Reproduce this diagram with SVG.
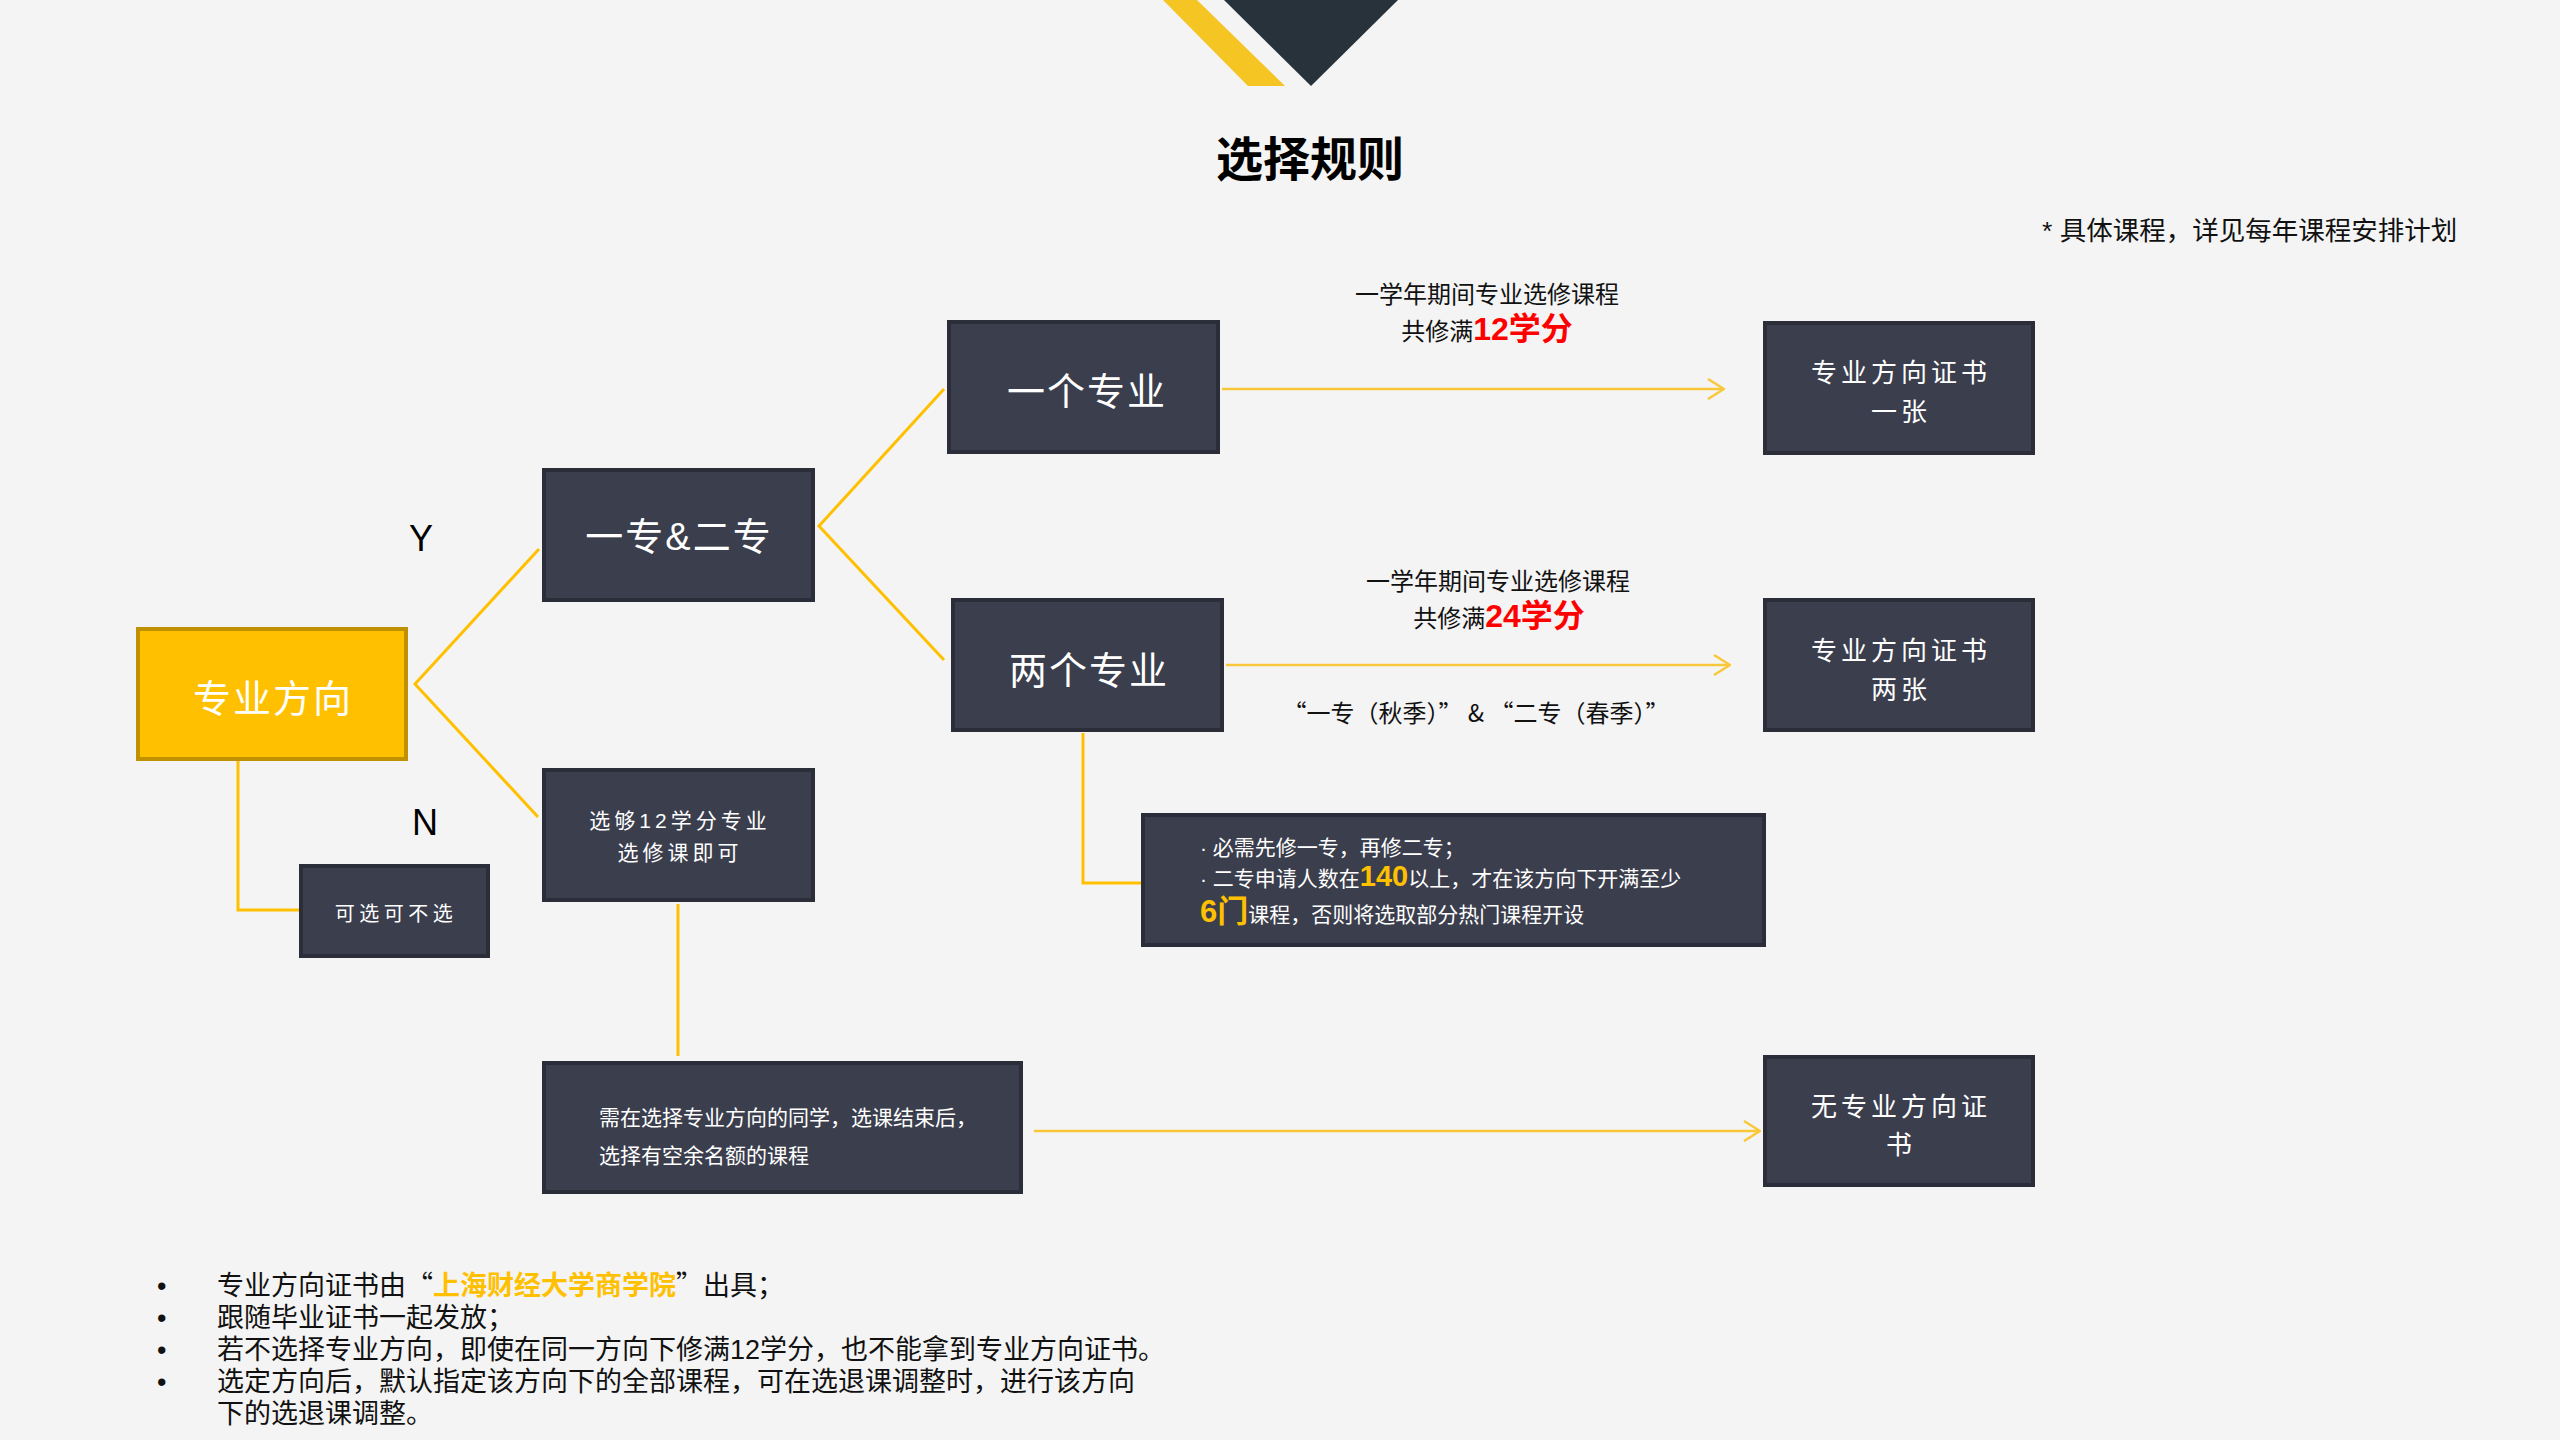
<svg xmlns="http://www.w3.org/2000/svg" width="2560" height="1440" viewBox="0 0 2560 1440">
<defs>
<style>
text{font-family:"Liberation Sans","Noto Sans CJK SC",sans-serif;}
.cjk{font-family:"Noto Sans CJK SC","Liberation Sans",sans-serif;}
.box{fill:#3B3E4D;stroke:#2B2D38;stroke-width:4;}
.ybox{fill:#FFC000;stroke:#BF9000;stroke-width:4;}
.wt{fill:#FFFFFF;text-anchor:middle;}
.big{font-size:38px;letter-spacing:2px;}
.cert{font-size:26px;letter-spacing:4px;}
.sm{font-size:21px;letter-spacing:4px;}
.lbl{font-size:24px;fill:#111111;text-anchor:middle;}
.red{fill:#FF0000;font-weight:bold;font-size:32px;}
.conn{fill:none;stroke:#FFC000;stroke-width:3;}
.arr{fill:none;stroke:#F9C83A;stroke-width:2.5;marker-end:url(#chev);}
.note{fill:#FFFFFF;font-size:21px;}
.hl{fill:#FFC000;font-weight:bold;}
.bul{font-size:27px;fill:#111111;}
</style>
<marker id="chev" viewBox="0 0 18 22" refX="17" refY="11" markerWidth="18" markerHeight="22" markerUnits="userSpaceOnUse" orient="auto">
<path d="M1,1 L17,11 L1,21" fill="none" stroke="#F9C83A" stroke-width="2.5"/>
</marker>
</defs>
<rect x="0" y="0" width="2560" height="1440" fill="#F4F4F4"/>

<g id="decor">
<polygon points="1163,0 1197,0 1285,86 1248,86" fill="#F5C523"/>
<polygon points="1224,0 1398,0 1311,86" fill="#27323B"/>
</g>
<text x="1310" y="176" font-size="47" font-weight="bold" text-anchor="middle" fill="#000000">选择规则</text>
<text x="2042" y="240" font-size="26.5" fill="#111111">* 具体课程，详见每年课程安排计划</text>

<g id="connectors">
<polyline class="conn" points="539,549 415,684 538,817"/>
<polyline class="conn" points="944,389 819,526 944,660"/>
<polyline class="conn" points="238,761 238,910 299,910"/>
<line class="conn" x1="678" y1="904" x2="678" y2="1056"/>
<polyline class="conn" points="1083,733 1083,883 1141,883"/>
<line class="arr" x1="1222" y1="389" x2="1724" y2="389"/>
<line class="arr" x1="1226" y1="665" x2="1730" y2="665"/>
<line class="arr" x1="1034" y1="1131" x2="1760" y2="1131"/>
</g>

<g id="edge-labels">
<text class="lbl" x="1487" y="303">一学年期间专业选修课程</text>
<text class="lbl" x="1487" y="340">共修满<tspan class="red">12学分</tspan></text>
<text class="lbl" x="1498" y="590">一学年期间专业选修课程</text>
<text class="lbl" x="1499" y="627">共修满<tspan class="red">24学分</tspan></text>
<text class="lbl cjk" x="1476" y="722">“一专（秋季）” &amp; “二专（春季）”</text>
<text x="421" y="551" font-size="36" text-anchor="middle" fill="#000000">Y</text>
<text x="425" y="835" font-size="36" text-anchor="middle" fill="#000000">N</text>
</g>

<g id="n_main">
<rect class="ybox" x="138" y="629" width="268" height="130"/>
<text class="wt big" x="273" y="712">专业方向</text>
</g>
<g id="n_both">
<rect class="box" x="544" y="470" width="269" height="130"/>
<text class="wt big" x="679" y="550">一专&amp;二专</text>
</g>
<g id="n_one">
<rect class="box" x="949" y="322" width="269" height="130"/>
<text class="wt big" x="1087" y="405">一个专业</text>
</g>
<g id="n_two">
<rect class="box" x="953" y="600" width="269" height="130"/>
<text class="wt big" x="1089" y="684">两个专业</text>
</g>
<g id="n_cert1">
<rect class="box" x="1765" y="323" width="268" height="130"/>
<text class="wt cert" x="1901" y="382">专业方向证书</text>
<text class="wt cert" x="1901" y="421">一张</text>
</g>
<g id="n_cert2">
<rect class="box" x="1765" y="600" width="268" height="130"/>
<text class="wt cert" x="1901" y="660">专业方向证书</text>
<text class="wt cert" x="1901" y="699">两张</text>
</g>
<g id="n_12">
<rect class="box" x="544" y="770" width="269" height="130"/>
<text class="wt sm" x="680" y="828">选够12学分专业</text>
<text class="wt sm" x="680" y="860">选修课即可</text>
</g>
<g id="n_opt">
<rect class="box" x="301" y="866" width="187" height="90"/>
<text class="wt" x="396" y="921" font-size="20" letter-spacing="4.5">可选可不选</text>
</g>
<g id="n_note">
<rect class="box" x="1143" y="815" width="621" height="130"/>
<text class="note" x="1200" y="855">· 必需先修一专，再修二专；</text>
<text class="note" x="1200" y="886">· 二专申请人数在<tspan class="hl" font-size="29">140</tspan>以上，才在该方向下开满至少</text>
<text class="note" x="1200" y="922"><tspan class="hl" font-size="31">6门</tspan>课程，否则将选取部分热门课程开设</text>
</g>
<g id="n_need">
<rect class="box" x="544" y="1063" width="477" height="129"/>
<text class="note" x="599" y="1125">需在选择专业方向的同学，选课结束后，</text>
<text class="note" x="599" y="1163">选择有空余名额的课程</text>
</g>
<g id="n_none">
<rect class="box" x="1765" y="1057" width="268" height="128"/>
<text class="wt cert" x="1901" y="1116">无专业方向证</text>
<text class="wt cert" x="1901" y="1154">书</text>
</g>

<g id="footnotes">
<text class="bul" x="157" y="1295">•</text>
<text class="bul" x="157" y="1327">•</text>
<text class="bul" x="157" y="1359">•</text>
<text class="bul" x="157" y="1391">•</text>
<text class="bul cjk" x="217" y="1295">专业方向证书由“<tspan class="hl">上海财经大学商学院</tspan>”出具；</text>
<text class="bul" x="217" y="1327">跟随毕业证书一起发放；</text>
<text class="bul" x="217" y="1359">若不选择专业方向，即使在同一方向下修满12学分，也不能拿到专业方向证书。</text>
<text class="bul" x="217" y="1391">选定方向后，默认指定该方向下的全部课程，可在选退课调整时，进行该方向</text>
<text class="bul" x="217" y="1423">下的选退课调整。</text>
</g>
</svg>
